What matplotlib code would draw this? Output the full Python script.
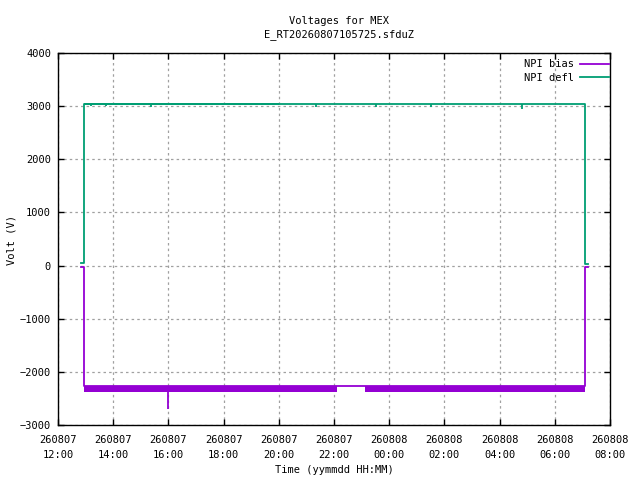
import numpy as np
import pandas as pd
import matplotlib
matplotlib.use("Agg")
import matplotlib.pyplot as plt
import matplotlib.dates as mdates

# NPI bias: base trace (step breakpoints), noise envelope, spike
bias_times = ["2026-08-07 12:50", "2026-08-07 12:57", "2026-08-07 12:57",
              "2026-08-07 22:06", "2026-08-07 23:07", "2026-08-08 07:05",
              "2026-08-08 07:05", "2026-08-08 07:12"]
bias_volts = [-30, -30, -2270, -2270, -2270, -2270, -35, -35]
bias_band_start = ["2026-08-07 12:57", "2026-08-07 23:07"]
bias_band_end = ["2026-08-07 22:06", "2026-08-08 07:05"]
bias_band_hi = [-2270, -2270]
bias_band_lo = [-2370, -2370]
bias_spike_times = ["2026-08-07 16:00"]
bias_spike_volts = [-2700]

# NPI defl: base trace, thicker noisy part, spikes
defl_times = ["2026-08-07 12:50", "2026-08-07 12:57", "2026-08-07 12:57",
              "2026-08-08 07:05", "2026-08-08 07:05", "2026-08-08 07:12"]
defl_volts = [40, 40, 3045, 3045, 30, 30]
defl_band_start = ["2026-08-07 12:57"]
defl_band_end = ["2026-08-07 20:00"]
defl_band_hi = [3050]
defl_band_lo = [3025]
defl_spike_times = ["2026-08-07 13:11", "2026-08-07 13:44", "2026-08-07 15:22",
                    "2026-08-07 21:21", "2026-08-07 23:31", "2026-08-08 01:30",
                    "2026-08-08 04:48"]
defl_spike_volts = [3000, 3000, 2990, 2990, 2980, 2980, 2955]

bias_color = "#9400d3"
defl_color = "#009e73"

plt.rcParams["font.family"] = ["DejaVu Sans Mono"]
plt.rcParams["font.size"] = 7.5

fig = plt.figure(figsize=(6.4, 4.8), dpi=100)
ax = fig.add_axes([58 / 640, 55 / 480, 552 / 640, 372 / 480])

ts = pd.to_datetime

# defl
ax.plot(ts(defl_times), defl_volts, color=defl_color, lw=1.3, label="NPI defl", zorder=3)
for s, e, lo, hi in zip(defl_band_start, defl_band_end, defl_band_lo, defl_band_hi):
    ax.fill_between(ts([s, e]), [lo, lo], [hi, hi], color=defl_color, lw=0, zorder=3)
ax.vlines(ts(defl_spike_times), defl_spike_volts, 3040, color=defl_color, lw=1.3, zorder=3)

# bias
ax.plot(ts(bias_times), bias_volts, color=bias_color, lw=1.3, label="NPI bias", zorder=4)
for s, e, lo, hi in zip(bias_band_start, bias_band_end, bias_band_lo, bias_band_hi):
    ax.fill_between(ts([s, e]), [lo, lo], [hi, hi], color=bias_color, lw=0, zorder=4)
ax.vlines(ts(bias_spike_times), bias_spike_volts, -2300, color=bias_color, lw=1.3, zorder=4)

ax.set_xlim(ts("2026-08-07 12:00"), ts("2026-08-08 08:00"))
ax.set_ylim(-3000, 4000)
ax.set_yticks(np.arange(-3000, 4001, 1000))
ax.xaxis.set_major_locator(mdates.HourLocator(byhour=range(0, 24, 2)))
ax.xaxis.set_major_formatter(mdates.DateFormatter("%y%m%d\n%H:%M"))

ax.grid(True, color="#a0a0a0", linestyle=(0, (2, 2.5)), lw=0.9)
ax.tick_params(direction="in", length=4, width=1, top=True, right=True, pad=6)
ax.tick_params(axis="x", pad=7)
ax.tick_params(axis="y", pad=5)
for lbl in ax.get_xticklabels():
    lbl.set_linespacing(1.6)
for sp in ax.spines.values():
    sp.set_linewidth(1.0)

fig.text(339 / 640, 1 - 21 / 480, "Voltages for MEX", ha="center", va="center")
fig.text(339 / 640, 1 - 35 / 480, "E_RT20260807105725.sfduZ", ha="center", va="center")
ax.set_xlabel("Time (yymmdd HH:MM)")
ax.xaxis.set_label_coords(334 / 640, 1 - 470 / 480, transform=fig.transFigure)
ax.set_ylabel("Volt (V)")
ax.yaxis.set_label_coords(12 / 640, 1 - 240 / 480, transform=fig.transFigure)
ax.xaxis.label.set_va("center")
ax.yaxis.label.set_va("center")

h, l = ax.get_legend_handles_labels()
ax.legend(h[::-1], l[::-1], loc="upper right", bbox_to_anchor=(1.009, 1.0),
          frameon=False, markerfirst=False, handlelength=2.8, handletextpad=0.5,
          borderaxespad=0.1, borderpad=0.5, labelspacing=0.35)

fig.savefig("out.png", dpi=100)
